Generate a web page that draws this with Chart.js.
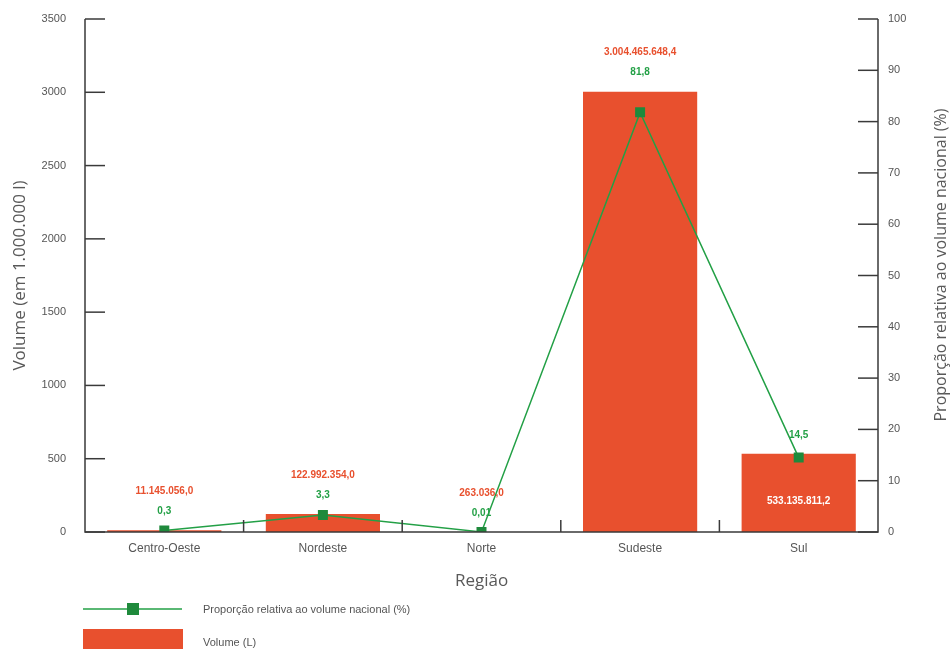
<!DOCTYPE html>
<html><head><meta charset="utf-8">
<script src="https://cdn.jsdelivr.net/npm/chart.js@4/dist/chart.umd.min.js"></script>
<style>html,body{margin:0;padding:0;background:#fff}#wrap{width:952px;height:649px}</style>
</head><body><div id="wrap"><canvas id="c" width="952" height="649"></canvas></div>
<script>
const categories = ['Centro-Oeste','Nordeste','Norte','Sudeste','Sul'];
const volumeLiters = [11145056.0, 122992354.0, 263036.0, 3004465648.4, 533135811.2];
const proportionPct = [0.3, 3.3, 0.01, 81.8, 14.5];
const proportionLabels = ['0,3','3,3','0,01','81,8','14,5'];
const volumeLabelInside = [false,false,false,false,true];
const leftTicks = [0,500,1000,1500,2000,2500,3000,3500];
const rightTicks = [0,10,20,30,40,50,60,70,80,90,100];

const volumeMillions = volumeLiters.map(v => v/1e6);
function fmtBR(v){
  const parts = v.toFixed(1).split('.');
  const int = parts[0].replace(/\B(?=(\d{3})+(?!\d))/g,'.');
  return int + ',' + parts[1];
}
const RED='#e8502e', GREEN='#23a046', DGREEN='#1f8a3c', AX='#3a3a3a', TXT='#555555';

const customDraw = {
  id:'customDraw',
  afterDatasetsDraw(chart){
    const ctx=chart.ctx, ca=chart.chartArea;
    const yL=chart.scales.y, yR=chart.scales.y1, x=chart.scales.x;
    ctx.save();
    ctx.strokeStyle=AX; ctx.lineWidth=1.5;
    ctx.beginPath();
    ctx.moveTo(ca.left,ca.top);ctx.lineTo(ca.left,ca.bottom);ctx.lineTo(ca.right,ca.bottom);ctx.lineTo(ca.right,ca.top);
    ctx.stroke();
    yL.ticks.forEach((t,i)=>{const py=yL.getPixelForTick(i);ctx.beginPath();ctx.moveTo(ca.left,py);ctx.lineTo(ca.left+20,py);ctx.stroke();});
    yR.ticks.forEach((t,i)=>{const py=yR.getPixelForTick(i);ctx.beginPath();ctx.moveTo(ca.right-20,py);ctx.lineTo(ca.right,py);ctx.stroke();});
    for(let i=0;i<categories.length-1;i++){
      const px=(x.getPixelForValue(i)+x.getPixelForValue(i+1))/2;
      ctx.beginPath();ctx.moveTo(px,ca.bottom-12);ctx.lineTo(px,ca.bottom);ctx.stroke();
    }
    const bars=chart.getDatasetMeta(1).data, pts=chart.getDatasetMeta(0).data;
    ctx.font='bold 10px "Liberation Sans", Arial, sans-serif';
    ctx.textAlign='center'; ctx.textBaseline='middle';
    for(let i=0;i<categories.length;i++){
      const b=bars[i], p=pts[i];
      const top=Math.min(b.y,p.y);
      const gy=top-19;
      ctx.fillStyle=GREEN;
      ctx.fillText(proportionLabels[i],p.x,gy);
      if(volumeLabelInside[i]){
        ctx.fillStyle='#ffffff';
        ctx.fillText(fmtBR(volumeLiters[i]),b.x,(b.y+b.base)/2+8);
      } else {
        ctx.fillStyle=RED;
        ctx.fillText(fmtBR(volumeLiters[i]),b.x,gy-20);
      }
    }
    ctx.save();
    ctx.translate(941,265);
    ctx.rotate(-Math.PI/2);
    ctx.font='16px "Open Sans", sans-serif';ctx.fillStyle='#595959';
    ctx.fillText('Proporção relativa ao volume nacional (%)',0,0);
    ctx.restore();
    const ds=chart.data.datasets;
    ctx.strokeStyle=GREEN;ctx.lineWidth=1.5;
    ctx.beginPath();ctx.moveTo(83,609);ctx.lineTo(182,609);ctx.stroke();
    ctx.fillStyle=DGREEN;ctx.fillRect(127,603,12,12);
    ctx.fillStyle=RED;ctx.fillRect(83,629,100,22);
    ctx.fillStyle=TXT;ctx.textAlign='left';
    ctx.font='11px "Liberation Sans", Arial, sans-serif';
    ctx.fillText(ds[0].label,203,610);
    ctx.fillText(ds[1].label,203,643);
    ctx.restore();
  }
};

function fitV(w){return s=>{s.width=w;s.paddingTop=0;s.paddingBottom=0;};}

new Chart(document.getElementById('c'),{
  data:{
    labels:categories,
    datasets:[
      {type:'line',label:'Proporção relativa ao volume nacional (%)',data:proportionPct,yAxisID:'y1',
       borderColor:GREEN,borderWidth:1.5,pointStyle:'rect',pointRadius:6,pointHoverRadius:6,
       pointBackgroundColor:DGREEN,pointBorderColor:DGREEN,tension:0,order:0},
      {type:'bar',label:'Volume (L)',data:volumeMillions,yAxisID:'y',backgroundColor:RED,
       barPercentage:0.72,categoryPercentage:1,order:1}
    ]
  },
  options:{
    responsive:false,animation:false,
    layout:{padding:{top:19,bottom:57,left:0,right:0}},
    plugins:{legend:{display:false},tooltip:{enabled:false}},
    scales:{
      x:{grid:{display:false,drawTicks:false},border:{display:false},
         ticks:{color:TXT,padding:9,font:{size:12,family:'"Liberation Sans", Arial, sans-serif'}},
         title:{display:true,text:'Região',color:'#595959',font:{size:17,family:'"Open Sans", sans-serif'},padding:{top:0,bottom:1}},
         afterFit(s){s.height=60;s.paddingLeft=0;s.paddingRight=0;}},
      y:{position:'left',min:0,max:3500,grid:{display:false,drawTicks:false},border:{display:false},
         afterBuildTicks(s){s.ticks=leftTicks.map(v=>({value:v}));},
         ticks:{color:TXT,padding:19,callback:v=>String(v),font:{size:11,family:'"Liberation Sans", Arial, sans-serif'}},
         title:{display:true,text:'Volume (em 1.000.000 l)',color:'#595959',font:{size:17,family:'"Open Sans", sans-serif'},padding:{top:10,bottom:0}},
         afterFit:fitV(85)},
      y1:{position:'right',min:0,max:100,grid:{display:false,drawTicks:false},border:{display:false},
         afterBuildTicks(s){s.ticks=rightTicks.map(v=>({value:v}));},
         ticks:{color:TXT,padding:10,callback:v=>String(v),font:{size:11,family:'"Liberation Sans", Arial, sans-serif'}},
         afterFit:fitV(74)}
    }
  },
  plugins:[customDraw]
});
</script></body></html>
